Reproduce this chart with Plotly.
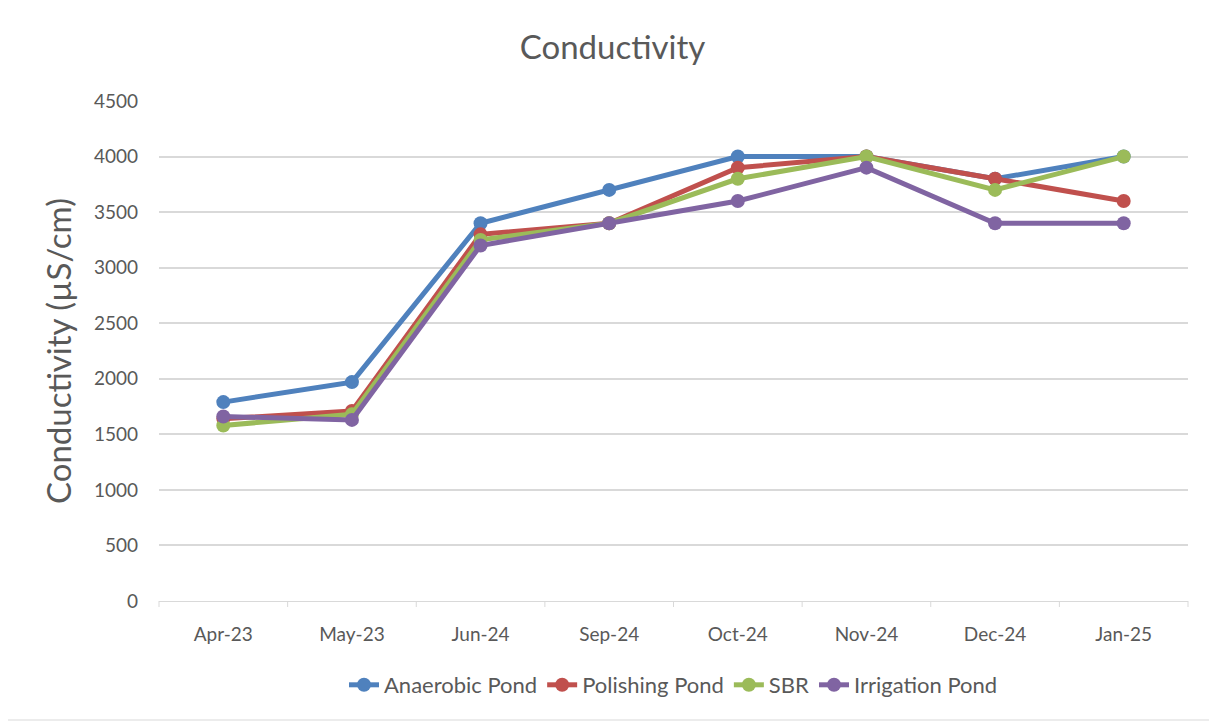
import plotly.graph_objects as go

categories = ["Apr-23", "May-23", "Jun-24", "Sep-24", "Oct-24", "Nov-24", "Dec-24", "Jan-25"]
anaerobic = [1790, 1970, 3400, 3700, 4000, 4000, 3800, 4000]
polishing = [1640, 1710, 3300, 3400, 3900, 4000, 3800, 3600]
sbr = [1580, 1680, 3250, 3400, 3800, 4000, 3700, 4000]
irrigation = [1660, 1630, 3200, 3400, 3600, 3900, 3400, 3400]
y_ticks = [0, 500, 1000, 1500, 2000, 2500, 3000, 3500, 4000, 4500]

series = [
    ("Anaerobic Pond", anaerobic, "#4F81BD"),
    ("Polishing Pond", polishing, "#C0504D"),
    ("SBR", sbr, "#9BBB59"),
    ("Irrigation Pond", irrigation, "#8064A2"),
]

OFF = 8  # page body margin
W, H = 1217 - OFF, 724 - OFF
L, T = 159 - OFF, 101 - OFF
pw, ph = 1029, 500
R, B = W - L - pw, H - T - ph

font = "Lato, 'Open Sans', sans-serif"

fig = go.Figure()
for name, vals, color in series:
    fig.add_trace(go.Scatter(
        x=list(range(len(categories))), y=vals, name=name, mode="lines+markers",
        line=dict(color=color, width=5), marker=dict(color=color, size=14),
    ))

fig.update_layout(
    width=W, height=H,
    margin=dict(l=L, r=R, t=T, b=B),
    paper_bgcolor="white", plot_bgcolor="white",
    font=dict(family=font, color="#595959"),
    title=dict(text="Conductivity", x=0.5, xanchor="center", y=1 - (47 - OFF) / H, yanchor="middle",
               font=dict(size=33, color="#595959", family=font)),
    showlegend=True,
    legend=dict(orientation="h", x=0.5, xanchor="center", y=-(685 - 601) / ph, yanchor="middle",
                font=dict(size=22, color="#595959"), tracegroupgap=0),
    xaxis=dict(
        range=[-0.5, len(categories) - 0.5],
        tickvals=list(range(len(categories))), ticktext=categories,
        showgrid=False, zeroline=False, showline=True, linecolor="#D9D9D9", linewidth=1,
        ticks="", tickfont=dict(size=19, color="#595959"), ticklabelstandoff=16, fixedrange=True,
    ),
    yaxis=dict(
        range=[0, 4500], tickvals=y_ticks, showgrid=True, gridcolor="#D9D9D9", gridwidth=1.5,
        zeroline=False, showline=False, ticks="",
        tickfont=dict(size=19, color="#595959"), ticklabelstandoff=20,
        title=dict(text="Conductivity (µS/cm)", font=dict(size=33, color="#595959"), standoff=12),
    ),
)

# category boundary tick marks on the x axis
for i in range(len(categories) + 1):
    xp = i / len(categories)
    fig.add_shape(type="line", xref="paper", yref="paper", x0=xp, x1=xp, y0=0, y1=-6 / ph,
                  line=dict(color="#D9D9D9", width=1))

# outer border
fig.add_shape(type="rect", xref="paper", yref="paper",
              x0=(1 - OFF - L) / pw, x1=(1213 - OFF - L) / pw,
              y0=-(720 - OFF - T - ph) / ph, y1=1 + (T - (1 - OFF)) / ph,
              line=dict(color="#D9D9D9", width=1), fillcolor="rgba(0,0,0,0)", layer="below")

fig.write_html("out.html")
